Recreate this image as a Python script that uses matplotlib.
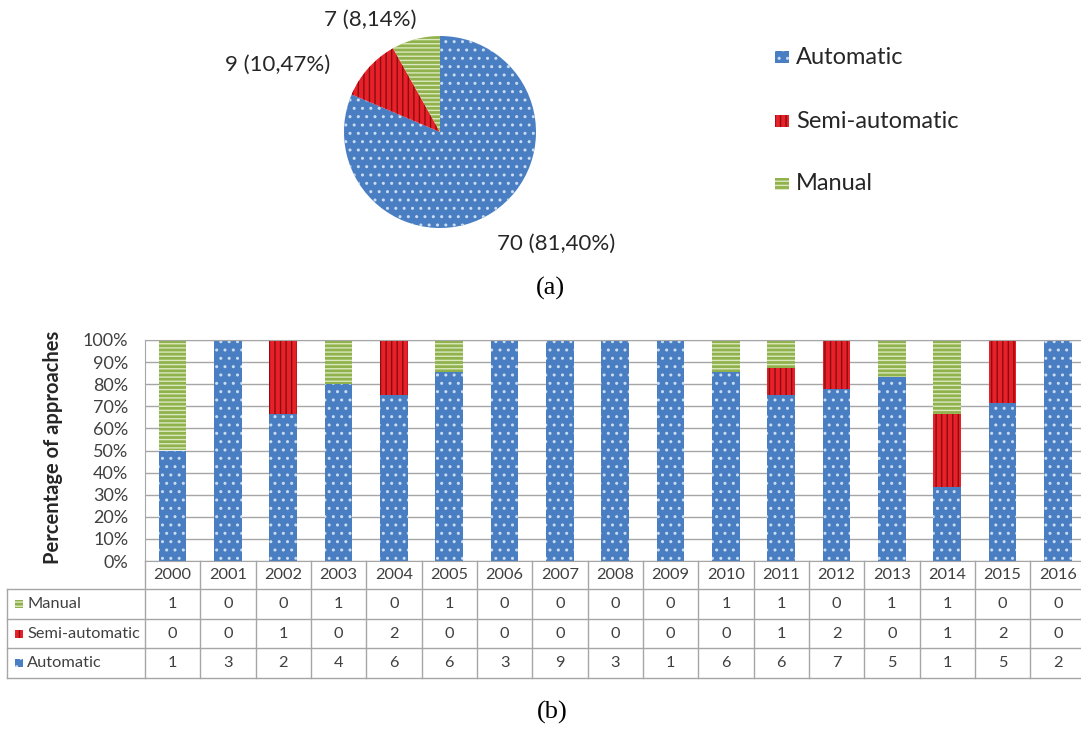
import matplotlib.pyplot as plt
from matplotlib.patches import Rectangle
from matplotlib.ticker import PercentFormatter
import numpy as np

plt.rcParams['font.family'] = ['Lato', 'DejaVu Sans']
plt.rcParams['hatch.linewidth'] = 1.0

YEARS = [str(y) for y in range(2000, 2017)]
MANUAL = [1, 0, 0, 1, 0, 1, 0, 0, 0, 0, 1, 1, 0, 1, 1, 0, 0]
SEMI = [0, 0, 1, 0, 2, 0, 0, 0, 0, 0, 0, 1, 2, 0, 1, 2, 0]
AUTO = [1, 3, 2, 4, 6, 6, 3, 9, 3, 1, 6, 6, 7, 5, 1, 5, 2]
CATEGORIES = ['Automatic', 'Semi-automatic', 'Manual']
TABLE_ROWS = ['Manual', 'Semi-automatic', 'Automatic']

STYLE = {
    'Automatic': dict(facecolor='#4A7EC2', edgecolor='#C9DCF2', hatch='..'),
    'Semi-automatic': dict(facecolor='#E8202A', edgecolor='#8A0E0E', hatch='|||'),
    'Manual': dict(facecolor='#8FB24C', edgecolor='#DCE8C0', hatch='----'),
}
TEXT = '#404040'
GRID = '#A6A6A6'

W, H = 1081, 736
fig = plt.figure(figsize=(W / 100, H / 100), dpi=100)


def px_axes(x0, y0, x1, y1):
    """axes from a pixel box, y measured from the top"""
    return fig.add_axes([x0 / W, 1 - y1 / H, (x1 - x0) / W, (y1 - y0) / H])


counts = {'Automatic': AUTO, 'Semi-automatic': SEMI, 'Manual': MANUAL}

# (a) pie of totals
pax = px_axes(344, 36, 536, 228)
totals = [sum(counts[c]) for c in CATEGORIES]
wedges, _ = pax.pie(totals, startangle=90, counterclock=False, radius=1,
                    wedgeprops=dict(linewidth=0))
for w, c in zip(wedges, CATEGORIES):
    w.set_facecolor(STYLE[c]['facecolor'])
    w.set_edgecolor(STYLE[c]['edgecolor'])
    w.set_hatch(STYLE[c]['hatch'])
pax.set_xlim(-1, 1)
pax.set_ylim(-1, 1)
pax.axis('off')

label_pos = {'Automatic': (1.21, -1.16), 'Semi-automatic': (-1.69, 0.70), 'Manual': (-0.73, 1.17)}
grand = sum(totals)
for c, n in zip(CATEGORIES, totals):
    txt = f"{n} ({100 * n / grand:.2f}%)".replace('.', ',')
    pax.text(*label_pos[c], txt, ha='center', va='center', fontsize=16, color='#262626')

# overlay for legend and captions
ov = fig.add_axes([0, 0, 1, 1], zorder=-1)
ov.set_xlim(0, W)
ov.set_ylim(H, 0)
ov.axis('off')
for c, y in zip(CATEGORIES, [57, 121, 184]):
    ov.add_patch(Rectangle((775, y - 6), 14, 12, linewidth=0, **STYLE[c]))
    ov.text(796, y, c, ha='left', va='center', fontsize=17, color='#262626')
ov.text(550, 288, '(a)', ha='center', va='center', fontsize=19,
        family=['Liberation Serif', 'DejaVu Serif'])
ov.text(552, 712, '(b)', ha='center', va='center', fontsize=19,
        family=['Liberation Serif', 'DejaVu Serif'])

# (b) stacked percentage bars
bax = px_axes(145, 340, 1085.5, 561)
x = np.arange(len(YEARS))
tot = np.array(AUTO) + np.array(SEMI) + np.array(MANUAL)
bottom = np.zeros(len(YEARS))
for c in CATEGORIES:
    pct = np.array(counts[c]) / tot
    bax.bar(x, pct, 0.5, bottom=bottom, linewidth=0, **STYLE[c])
    bottom += pct
bax.set_xlim(-0.5, len(YEARS) - 0.5)
bax.set_ylim(0, 1)
bax.set_yticks(np.linspace(0, 1, 11))
bax.yaxis.set_major_formatter(PercentFormatter(1.0, decimals=0))
bax.yaxis.grid(True, color=GRID, linewidth=1)
bax.set_axisbelow(True)
bax.set_xticks([])
bax.tick_params(axis='y', length=0, pad=12, labelsize=13, labelcolor=TEXT)
for s in bax.spines.values():
    s.set_color(GRID)
bax.set_ylabel('Percentage of approaches', fontweight='bold', fontsize=14.5, color='#262626')
bax.yaxis.set_label_coords(-0.0872, 0.516)

# data table under the bars, sharing the bar columns
col_w = (1085.5 - 145) / len(YEARS)
tab = px_axes(7, 561, 1085.5, 678)
x_left = -0.5 - (145 - 7) / col_w
tab.set_xlim(x_left, len(YEARS) - 0.5)
tab.set_ylim(117, 0)
tab.axis('off')
row_edges = [0, 28, 58, 87, 117]
line = dict(color=GRID, linewidth=1, clip_on=False)
for k in range(len(YEARS) + 1):
    tab.plot([k - 0.5, k - 0.5], [0, 117], **line)
tab.plot([x_left, x_left], [28, 117], **line)
for y in row_edges[1:]:
    tab.plot([x_left, len(YEARS) - 0.5], [y, y], **line)

for i, yr in enumerate(YEARS):
    tab.text(i, 14, yr, ha='center', va='center', fontsize=11.8, color=TEXT)
for r, name in enumerate(TABLE_ROWS):
    yc = (row_edges[r + 1] + row_edges[r + 2]) / 2
    tab.add_patch(Rectangle((x_left + 8 / col_w, yc - 4), 8 / col_w, 8,
                            linewidth=0, clip_on=False, **STYLE[name]))
    tab.text(x_left + 20 / col_w, yc, name, ha='left', va='center', fontsize=11.8, color=TEXT)
    for i, v in enumerate(counts[name]):
        tab.text(i, yc, str(v), ha='center', va='center', fontsize=11.8, color=TEXT)

fig.savefig('out.png', dpi=100)
